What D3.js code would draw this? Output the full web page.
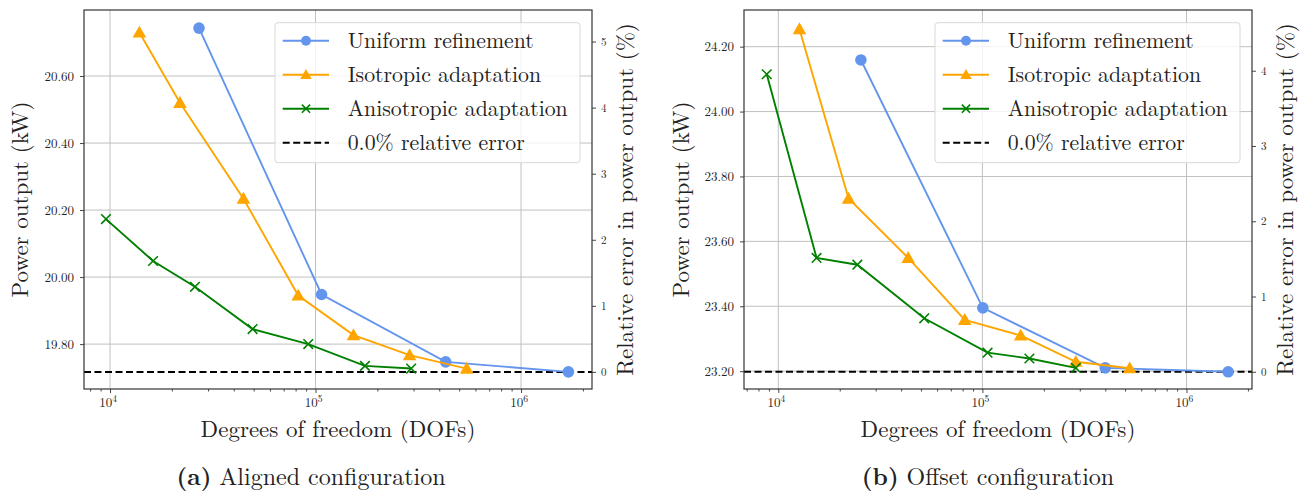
<!DOCTYPE html>
<html>
<head>
<meta charset="utf-8">
<script src="https://cdn.jsdelivr.net/npm/d3@7"></script>
<style>
  body { margin: 0; background: #fff; }
</style>
</head>
<body>
<div id="chart"></div>
<script>
// Donnees : (a) configuration alignee
const alignedUniformDofs = [27100, 107000, 430000, 1700000];
const alignedUniformPower = [20.743, 19.948, 19.747, 19.717];
const alignedIsoDofs = [13900, 21900, 44600, 82400, 153000, 287000, 544000];
const alignedIsoPower = [20.730, 20.520, 20.234, 19.945, 19.827, 19.767, 19.727];
const alignedAnisoDofs = [9560, 16200, 25900, 49400, 92200, 174000, 292000];
const alignedAnisoPower = [20.173, 20.048, 19.971, 19.845, 19.800, 19.735, 19.727];
const alignedRef = 19.717;

// (b) configuration decalee
const offsetUniformDofs = [25400, 100500, 400000, 1600000];
const offsetUniformPower = [24.159, 23.395, 23.210, 23.198];
const offsetIsoDofs = [12700, 22100, 43300, 82000, 154000, 287000, 527000];
const offsetIsoPower = [24.254, 23.732, 23.549, 23.358, 23.310, 23.229, 23.209];
const offsetAnisoDofs = [8780, 15400, 24400, 51900, 106000, 170000, 287000];
const offsetAnisoPower = [24.115, 23.549, 23.528, 23.363, 23.257, 23.239, 23.210];
const offsetRef = 23.198;

const seriesNames = ["Uniform refinement", "Isotropic adaptation", "Anisotropic adaptation"];
const refLabel = "0.0% relative error";
const alignedPowerTicks = [19.80, 20.00, 20.20, 20.40, 20.60];
const offsetPowerTicks = [23.20, 23.40, 23.60, 23.80, 24.00, 24.20];
const alignedErrorTicks = [0, 1, 2, 3, 4, 5];
const offsetErrorTicks = [0, 1, 2, 3, 4];
const dofTicks = [1e4, 1e5, 1e6];

const colors = ["#6495ed", "#ffa500", "#008000"];
const markers = ["circle", "triangle", "x"];
const FONT = "'Latin Modern Roman', 'CMU Serif', 'Liberation Serif', serif";

const svg = d3.select("#chart").append("svg")
    .attr("width", 1309)
    .attr("height", 494)
    .attr("font-family", FONT);

function txt(sel) {
  return sel.style("font-family", FONT).attr("fill", "#222");
}

function drawPanel(p) {
  const g = svg.append("g");

  const x = d3.scaleLog().domain(p.xDomain).range([p.left, p.right]);
  const y = d3.scaleLinear().domain(p.yDomain).range([p.bottom, p.top]);
  // axe de droite : erreur relative en %
  const yR = d3.scaleLinear()
      .domain(p.yDomain.map(v => (v - p.ref) / p.ref * 100))
      .range([p.bottom, p.top]);

  // grille
  g.append("g").selectAll("line").data(dofTicks).join("line")
      .attr("x1", d => x(d)).attr("x2", d => x(d))
      .attr("y1", p.top).attr("y2", p.bottom)
      .attr("stroke", "#c0c0c0").attr("stroke-width", 1);
  g.append("g").selectAll("line").data(p.powerTicks).join("line")
      .attr("x1", p.left).attr("x2", p.right)
      .attr("y1", d => y(d)).attr("y2", d => y(d))
      .attr("stroke", "#c0c0c0").attr("stroke-width", 1);

  // axe X (log) avec graduations mineures
  const minor = [];
  for (let e = 3; e <= 6; e++) for (let k = 2; k <= 9; k++) {
    const v = k * Math.pow(10, e);
    if (v >= p.xDomain[0] && v <= p.xDomain[1]) minor.push(v);
  }
  const xAxis = g.append("g").attr("transform", `translate(0,${p.bottom})`);
  xAxis.call(d3.axisBottom(x).tickValues(minor).tickSize(2.5).tickFormat(""));
  xAxis.append("g").call(d3.axisBottom(x).tickValues(dofTicks).tickSize(4).tickFormat(""));
  xAxis.selectAll(".domain").remove();
  xAxis.selectAll("line").attr("stroke", "#333").attr("stroke-width", 0.9);
  const xl = txt(xAxis.append("g").selectAll("text").data(dofTicks).join("text"))
      .attr("x", d => x(d) - 2).attr("y", 18)
      .attr("text-anchor", "middle")
      .style("font-size", "13px");
  xl.append("tspan").text("10");
  xl.append("tspan").attr("dy", -5).style("font-size", "9.5px").text(d => Math.round(Math.log10(d)));

  // axe Y gauche
  const yAxis = g.append("g").attr("transform", `translate(${p.left},0)`)
      .call(d3.axisLeft(y).tickValues(p.powerTicks).tickSize(4).tickFormat(d3.format(".2f")));
  yAxis.select(".domain").remove();
  yAxis.selectAll("line").attr("stroke", "#333").attr("stroke-width", 0.9);
  txt(yAxis.selectAll("text")).style("font-size", "13px").attr("x", -10);

  // axe Y droit
  const yAxisR = g.append("g").attr("transform", `translate(${p.right},0)`)
      .call(d3.axisRight(yR).tickValues(p.errorTicks).tickSize(4).tickFormat(d3.format("d")));
  yAxisR.select(".domain").remove();
  yAxisR.selectAll("line").attr("stroke", "#333").attr("stroke-width", 0.9);
  txt(yAxisR.selectAll("text")).style("font-size", "11px").attr("x", 9);

  // ligne de reference
  g.append("line")
      .attr("x1", p.left).attr("x2", p.right)
      .attr("y1", y(p.ref)).attr("y2", y(p.ref))
      .attr("stroke", "#000").attr("stroke-width", 2)
      .attr("stroke-dasharray", "7,3.5");

  // series
  const line = d3.line().x(d => x(d[0])).y(d => y(d[1]));
  p.series.forEach((s, i) => {
    const pts = s.dofs.map((d, j) => [d, s.power[j]]);
    g.append("path").datum(pts)
        .attr("d", line)
        .attr("fill", "none")
        .attr("stroke", colors[i])
        .attr("stroke-width", 1.9);
    pts.forEach(pt => drawMarker(g, markers[i], x(pt[0]), y(pt[1]), colors[i]));
  });

  // cadre
  g.append("rect")
      .attr("x", p.left).attr("y", p.top)
      .attr("width", p.right - p.left).attr("height", p.bottom - p.top)
      .attr("fill", "none").attr("stroke", "#333").attr("stroke-width", 1.2);

  // legende
  const lx = p.right - 12 - 305, ly = p.top + 12.7;
  const leg = g.append("g").attr("transform", `translate(${lx},${ly})`);
  leg.append("rect")
      .attr("width", 305).attr("height", 140).attr("rx", 3)
      .attr("fill", "#fff").attr("fill-opacity", 0.8)
      .attr("stroke", "#d8d8d8").attr("stroke-width", 1);
  const entries = seriesNames.concat([refLabel]);
  entries.forEach((name, i) => {
    const ey = 18 + i * 34;
    const ln = leg.append("line")
        .attr("x1", 7.7).attr("x2", 54).attr("y1", ey).attr("y2", ey)
        .attr("stroke", i < 3 ? colors[i] : "#000")
        .attr("stroke-width", 2);
    if (i < 3) drawMarker(leg, markers[i], 31, ey, colors[i], 0.85);
    else ln.attr("stroke-dasharray", "7,3.5");
    txt(leg.append("text"))
        .attr("x", 72.7).attr("y", ey + 7)
        .style("font-size", "21.8px")
        .text(name);
  });

  // titres d'axes
  txt(g.append("text"))
      .attr("transform", `translate(${p.leftLabelX},${(p.top + p.bottom) / 2}) rotate(-90)`)
      .attr("text-anchor", "middle").attr("dy", "0.35em")
      .style("font-size", "23px")
      .text("Power output (kW)");
  txt(g.append("text"))
      .attr("transform", `translate(${p.rightLabelX},${(p.top + p.bottom) / 2}) rotate(-90)`)
      .attr("text-anchor", "middle").attr("dy", "0.35em")
      .style("font-size", "23px")
      .text("Relative error in power output (%)");
  txt(g.append("text"))
      .attr("x", (p.left + p.right) / 2).attr("y", 437)
      .attr("text-anchor", "middle")
      .style("font-size", "23px")
      .text("Degrees of freedom (DOFs)");

  // legende de sous-figure
  const cap = txt(g.append("text"))
      .attr("x", p.captionX).attr("y", 485)
      .attr("text-anchor", "middle")
      .style("font-size", "24px");
  cap.append("tspan").style("font-weight", "bold").text(p.captionTag);
  cap.append("tspan").text(" " + p.caption);
}

function drawMarker(g, type, cx, cy, color, k = 1) {
  if (type === "circle") {
    g.append("circle").attr("cx", cx).attr("cy", cy).attr("r", 5.8 * k).attr("fill", color);
  } else if (type === "triangle") {
    const s = 6.8 * k;
    g.append("path")
        .attr("d", `M${cx},${cy - s}L${cx + s},${cy + s * 0.75}L${cx - s},${cy + s * 0.75}Z`)
        .attr("fill", color);
  } else {
    const s = 4.8 * k;
    g.append("path")
        .attr("d", `M${cx - s},${cy - s}L${cx + s},${cy + s}M${cx - s},${cy + s}L${cx + s},${cy - s}`)
        .attr("stroke", color).attr("stroke-width", 1.6);
  }
}

drawPanel({
  left: 84, right: 592, top: 10, bottom: 389,
  xDomain: [7472, 2215000], yDomain: [19.666, 20.797],
  ref: alignedRef, powerTicks: alignedPowerTicks, errorTicks: alignedErrorTicks,
  series: [
    {dofs: alignedUniformDofs, power: alignedUniformPower},
    {dofs: alignedIsoDofs, power: alignedIsoPower},
    {dofs: alignedAnisoDofs, power: alignedAnisoPower}
  ],
  leftLabelX: 20, rightLabelX: 625,
  captionX: 311, captionTag: "(a)", caption: "Aligned configuration"
});

drawPanel({
  left: 744, right: 1252, top: 10, bottom: 389,
  xDomain: [6792, 2094000], yDomain: [23.145, 24.313],
  ref: offsetRef, powerTicks: offsetPowerTicks, errorTicks: offsetErrorTicks,
  series: [
    {dofs: offsetUniformDofs, power: offsetUniformPower},
    {dofs: offsetIsoDofs, power: offsetIsoPower},
    {dofs: offsetAnisoDofs, power: offsetAnisoPower}
  ],
  leftLabelX: 681, rightLabelX: 1285,
  captionX: 988, captionTag: "(b)", caption: "Offset configuration"
});
</script>
</body>
</html>
